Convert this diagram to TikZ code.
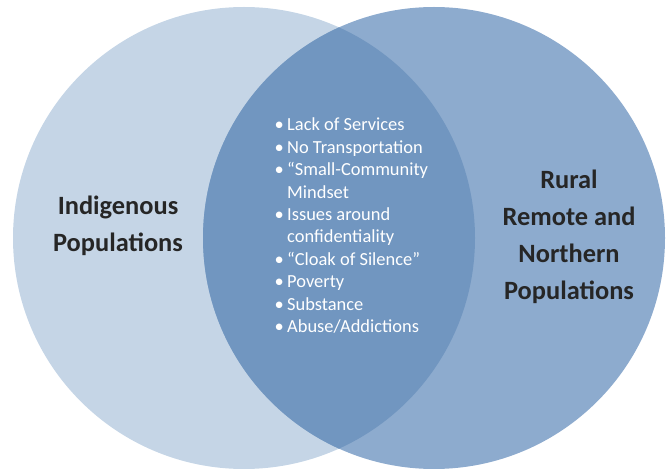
\documentclass[tikz,border=0pt]{standalone}
\usepackage{fontspec}
\setmainfont{Carlito}
\definecolor{leftblue}{HTML}{C5D5E6}
\definecolor{rightblue}{HTML}{8DABCE}
\definecolor{midblue}{HTML}{7196C0}
\definecolor{labelgray}{HTML}{262626}
\begin{document}
\begin{tikzpicture}[x=1bp,y=-1bp]
    \useasboundingbox (0,0) rectangle (667,469);

    \fill[leftblue] (244,238) circle[radius=231];
    \fill[rightblue] (434,238) circle[radius=231];
    \begin{scope}
    \clip (244,238) circle[radius=231];
    \fill[midblue] (434,238) circle[radius=231];
    \end{scope}

    \node[font=\bfseries\fontsize{26.5}{37}\selectfont,
    align=center,text=labelgray] (indig)
    at (118,226) {Indigenous\\Populations};

    \node[font=\bfseries\fontsize{26.5}{37}\selectfont,
    align=center,text=labelgray] (rural)
    at (569,237) {Rural\\Remote and\\Northern\\Populations};

    \foreach \n/\b/\t in
    {0/•/Lack of Services,1/•/No Transportation,
     2/•/“Small-Community,3//Mindset,
     4/•/Issues around,5//confidentiality,
     6/•/“Cloak of Silence”,7/•/Poverty,
     8/•/Substance,9/•/{Abuse/Addictions}}
    {\node[anchor=base west,text=white,inner sep=0pt,
    font=\fontsize{18.5}{18.5}\selectfont]
    (item\n) at (287,131+22.4*\n) {\t};
    \node[anchor=base west,text=white,inner sep=0pt,
    font=\fontsize{18.5}{18.5}\selectfont]
    (dot\n) at (274.5,131+22.4*\n) {\b};}
\end{tikzpicture}
\end{document}
